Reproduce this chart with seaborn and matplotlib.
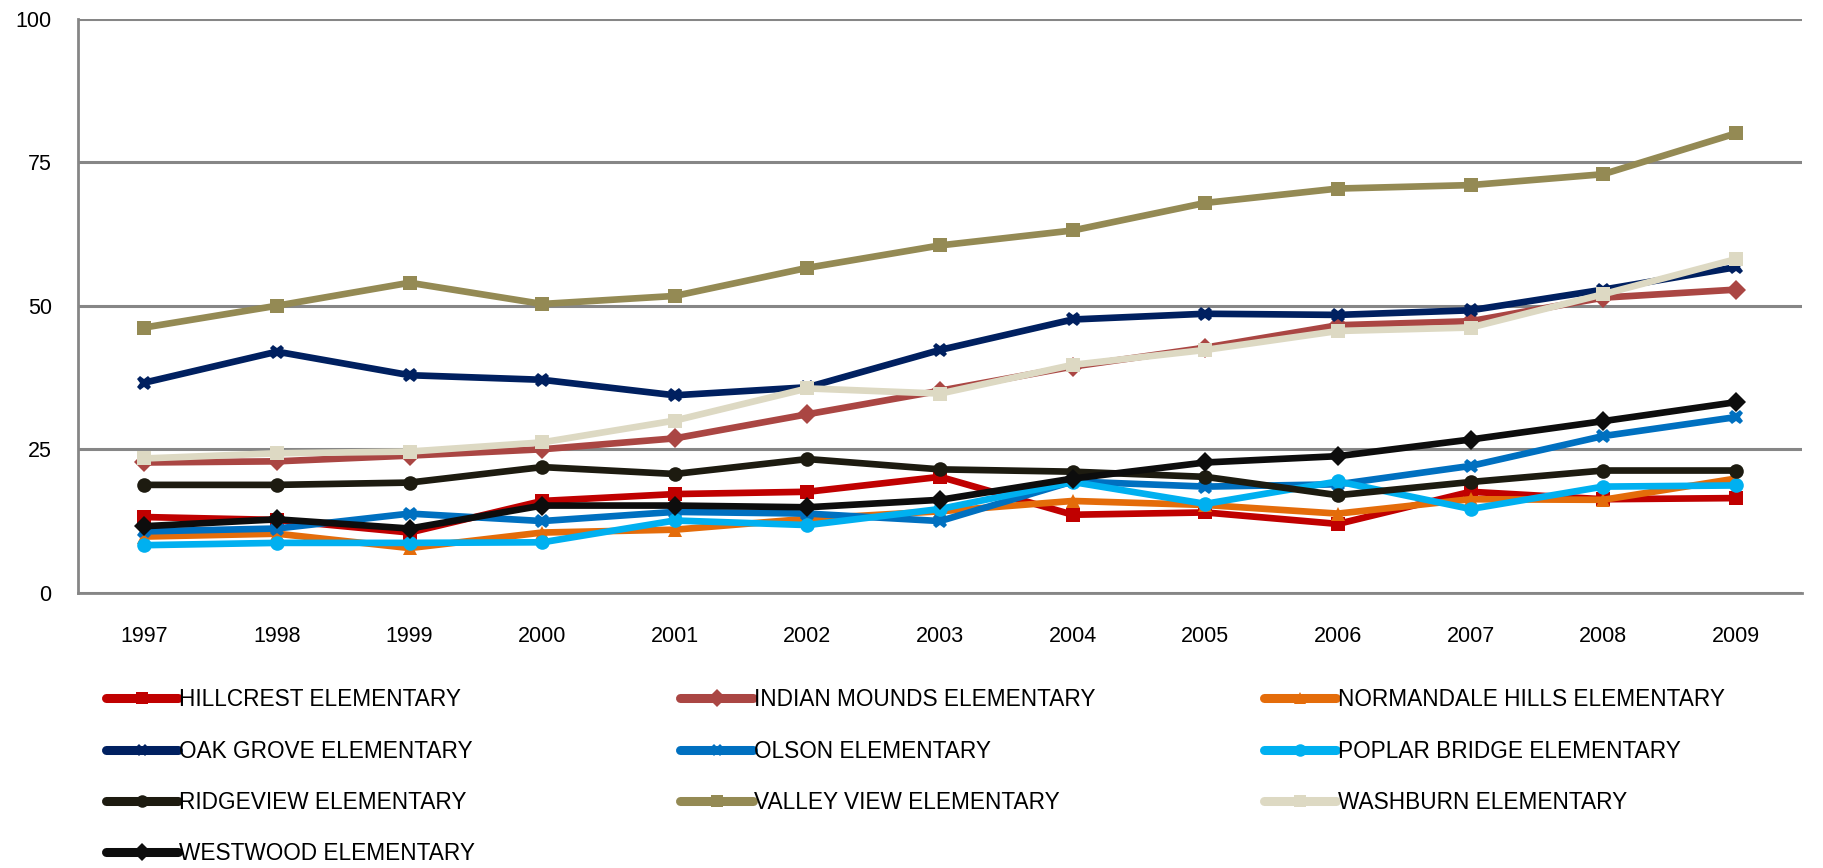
#!/usr/bin/env python3
"""Elementary school trend lines, 1997-2009."""
import matplotlib
matplotlib.use("Agg")
import matplotlib.pyplot as plt
from matplotlib.lines import Line2D
from matplotlib.ticker import FixedLocator
import pandas as pd
import seaborn as sns

years = [str(y) for y in range(1997, 2010)]

hillcrest = [13.2, 12.7, 10.5, 16.0, 17.2, 17.6, 20.2, 13.6, 14.0, 12.0, 17.6, 16.3, 16.5]
indian_mounds = [22.7, 22.9, 23.9, 25.0, 26.9, 31.1, 35.2, 39.4, 42.7, 46.6, 47.3, 51.4, 52.8]
normandale = [9.8, 10.3, 7.8, 10.5, 11.0, 12.9, 14.2, 16.0, 15.3, 13.8, 16.3, 16.2, 19.9]
oak_grove = [36.6, 42.0, 37.9, 37.1, 34.4, 35.8, 42.3, 47.6, 48.6, 48.4, 49.2, 52.8, 56.7]
olson = [10.7, 11.2, 13.8, 12.5, 14.1, 13.8, 12.5, 19.4, 18.5, 18.9, 22.1, 27.3, 30.6]
poplar_bridge = [8.3, 8.7, 8.7, 8.8, 12.6, 11.8, 14.6, 19.3, 15.5, 19.4, 14.6, 18.5, 18.7]
ridgeview = [18.8, 18.8, 19.2, 21.9, 20.7, 23.3, 21.5, 21.1, 20.2, 17.0, 19.3, 21.3, 21.3]
valley_view = [46.2, 50.0, 54.0, 50.3, 51.7, 56.6, 60.5, 63.1, 67.9, 70.4, 71.0, 72.9, 80.0]
washburn = [23.4, 24.3, 24.6, 26.2, 30.0, 35.6, 34.7, 39.7, 42.3, 45.6, 46.2, 52.0, 58.1]
westwood = [11.6, 12.8, 11.2, 15.2, 15.2, 14.9, 16.2, 19.9, 22.7, 23.8, 26.7, 29.9, 33.2]

school_names = [
    "HILLCREST ELEMENTARY", "INDIAN MOUNDS ELEMENTARY", "NORMANDALE HILLS ELEMENTARY",
    "OAK GROVE ELEMENTARY", "OLSON ELEMENTARY", "POPLAR BRIDGE ELEMENTARY",
    "RIDGEVIEW ELEMENTARY", "VALLEY VIEW ELEMENTARY", "WASHBURN ELEMENTARY",
    "WESTWOOD ELEMENTARY",
]
series = [hillcrest, indian_mounds, normandale, oak_grove, olson, poplar_bridge,
          ridgeview, valley_view, washburn, westwood]

colors = ["#C00000", "#AA4643", "#E46C0A", "#002060", "#0070C0", "#00B0F0",
          "#1D1B10", "#948A54", "#DDD9C3", "#0D0D0D"]
markers = ["s", "D", "^", "X", "X", "o", "o", "s", "s", "D"]

# long-form table for seaborn
rows = []
for name, vals in zip(school_names, series):
    for i, v in enumerate(vals):
        rows.append({"school": name, "year": i, "value": v})
df = pd.DataFrame(rows)

sns.set_style("white")
plt.rcParams["font.family"] = ["Liberation Sans", "DejaVu Sans"]
plt.rcParams["text.color"] = "black"

fig = plt.figure(figsize=(18.24, 8.68), dpi=100)
ax = fig.add_axes([0.0428, 0.317, 0.9452, 0.6616])

palette = dict(zip(school_names, colors))
marker_map = dict(zip(school_names, markers))
sns.lineplot(
    data=df, x="year", y="value", hue="school", style="school",
    hue_order=school_names, style_order=school_names,
    palette=palette, markers=marker_map, dashes=False,
    linewidth=4.8, markersize=10.5, markeredgewidth=0,
    legend=False, ax=ax, zorder=3,
)

grid_col = "#868686"
ax.set_xlim(-0.5, len(years) - 0.5)
ax.set_ylim(0, 100)
ax.set_yticks([0, 25, 50, 75, 100])
ax.yaxis.grid(True, color=grid_col, linewidth=2.2)
ax.set_axisbelow(True)
ax.set_xticks(range(len(years)))
ax.set_xticklabels(years)
ax.xaxis.set_minor_locator(FixedLocator([i - 0.5 for i in range(len(years) + 1)]))
ax.tick_params(axis="x", which="major", length=0, pad=24, labelsize=15.5,
               labelcolor="black")
ax.tick_params(axis="x", which="minor", length=8, width=2, color=grid_col, direction="out")
ax.tick_params(axis="y", length=7, width=2, color=grid_col, direction="out", pad=12,
               labelsize=15.5, labelcolor="black")
ax.set_xlabel("")
ax.set_ylabel("")
for side in ["top", "right"]:
    ax.spines[side].set_visible(False)
for side in ["left", "bottom"]:
    ax.spines[side].set_color(grid_col)
    ax.spines[side].set_linewidth(2)

# legend: three columns placed like the original
columns = [[0, 3, 6, 9], [1, 4, 7], [2, 5, 8]]
col_x = [0.058, 0.373, 0.693]
for cols, x0 in zip(columns, col_x):
    handles = [
        Line2D([], [], color=colors[i], marker=markers[i], linewidth=6.5,
               markersize=9, markeredgewidth=0, label=school_names[i])
        for i in cols
    ]
    fig.legend(
        handles=handles, loc="upper left", bbox_to_anchor=(x0, 0.207),
        frameon=False, fontsize=16.3, handlelength=3.2, handletextpad=0.05,
        labelspacing=1.25, borderaxespad=0, borderpad=0,
    )

fig.savefig("out.png", dpi=100)
plt.close(fig)
